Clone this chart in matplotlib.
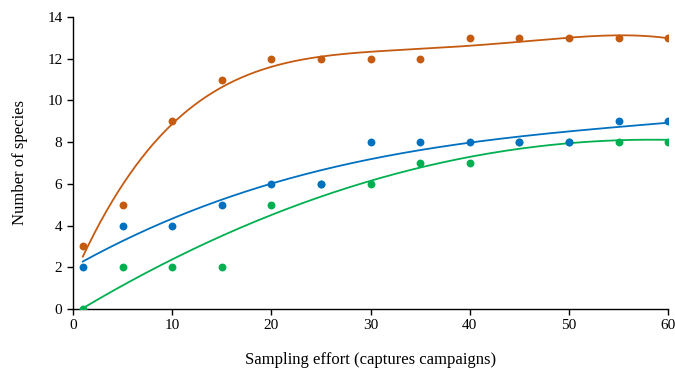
import numpy as np
import matplotlib
matplotlib.use("Agg")
import matplotlib.pyplot as plt

plt.rcParams['font.family'] = ['Liberation Serif', 'DejaVu Serif']

effort = [1, 5, 10, 15, 20, 25, 30, 35, 40, 45, 50, 55, 60]
orange_vals = [3, 5, 9, 11, 12, 12, 12, 12, 13, 13, 13, 13, 13]
blue_vals = [2, 4, 4, 5, 6, 6, 8, 8, 8, 8, 8, 9, 9]
green_vals = [0, 2, 2, 2, 5, 6, 6, 7, 7, 8, 8, 8, 8]
x_ticks = [0, 10, 20, 30, 40, 50, 60]
y_ticks = [0, 2, 4, 6, 8, 10, 12, 14]

series = [
    (green_vals, '#00B050', 2),
    (blue_vals, '#0070C0', 3),
    (orange_vals, '#C55A11', 4),
]

fig = plt.figure(figsize=(6.75, 3.76), dpi=100)
ax = fig.add_axes([0.108, 0.178, 0.882, 0.777])

x = np.array(effort, dtype=float)
xs = np.linspace(1, 60, 300)
for vals, col, deg in series:
    coef = np.polyfit(x, np.array(vals, dtype=float), deg)
    ax.plot(xs, np.polyval(coef, xs), color=col, lw=1.3, zorder=2)
for vals, col, deg in series:
    ax.scatter(effort, vals, s=32, color=col, zorder=3, linewidths=0)

ax.set_xlim(0, 60)
ax.set_ylim(0, 14)
ax.set_xticks(x_ticks)
ax.set_yticks(y_ticks)
for s in ['top', 'right']:
    ax.spines[s].set_visible(False)
for s in ['left', 'bottom']:
    ax.spines[s].set_linewidth(1.0)
    ax.spines[s].set_color('black')
ax.tick_params(axis='both', labelsize=11, direction='out', length=4, width=1, colors='black')
ax.set_xlabel('Sampling effort (captures campaigns)', fontsize=12, labelpad=14)
ax.set_ylabel('Number of species', fontsize=12, labelpad=14)

fig.savefig('out.png', dpi=100)
